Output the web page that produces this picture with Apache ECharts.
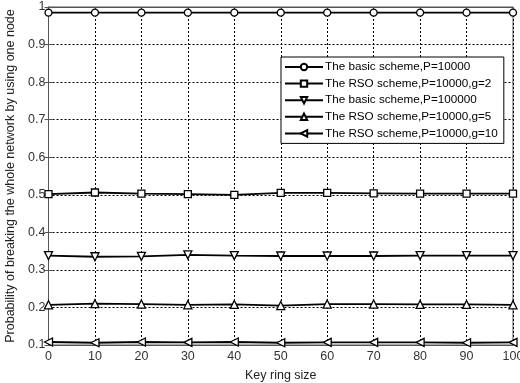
<!DOCTYPE html>
<html>
<head>
<meta charset="utf-8">
<script src="https://cdn.jsdelivr.net/npm/echarts@6/dist/echarts.min.js"></script>
<style>
  html, body { margin: 0; padding: 0; background: #fff; }
  #chart { width: 520px; height: 383px; }
</style>
</head>
<body>
<div id="chart"></div>
<script>
// key ring size (x)
const keyRingSize = [0, 10, 20, 30, 40, 50, 60, 70, 80, 90, 100];

// probability
const basicP1e4 = [0.985, 0.985, 0.985, 0.985, 0.985, 0.985, 0.985, 0.985, 0.985, 0.985, 0.985];
const rsoG2 = [0.502, 0.506, 0.503, 0.502, 0.500, 0.505, 0.505, 0.504, 0.503, 0.503, 0.503];
const basicP1e5 = [0.338, 0.335, 0.336, 0.340, 0.338, 0.337, 0.337, 0.337, 0.338, 0.338, 0.338];
const rsoG5 = [0.207, 0.210, 0.209, 0.207, 0.208, 0.205, 0.209, 0.209, 0.208, 0.208, 0.207];
const rsoG10 = [0.108, 0.106, 0.108, 0.107, 0.108, 0.106, 0.107, 0.107, 0.107, 0.106, 0.107];

const seriesNames = [
  'The basic scheme,P=10000',
  'The RSO scheme,P=10000,g=2',
  'The basic scheme,P=100000',
  'The RSO scheme,P=10000,g=5',
  'The RSO scheme,P=10000,g=10'
];

const chart = echarts.init(document.getElementById('chart'));

// 每条线的样式
const makeSeries = (name, values, symbol, rotate, size) => ({
  name: name,
  type: 'line',
  data: keyRingSize.map((x, i) => [x, values[i]]),
  symbol: symbol,
  symbolSize: size,
  symbolRotate: rotate,
  showAllSymbol: true,
  lineStyle: { color: '#000', width: 1.8 },
  itemStyle: { color: '#fff', borderColor: '#000', borderWidth: 1.3 },
  emphasis: { disabled: true },
  animation: false,
  z: 3
});

const font = 'Arial, "Liberation Sans", sans-serif';

const option = {
  animation: false,
  grid: {
    left: 48.5, right: 7, top: 7, bottom: 38,
    outerBoundsMode: 'none',
    show: true, borderColor: '#555', borderWidth: 1
  },
  legend: {
    orient: 'vertical',
    left: 281, top: 57,
    padding: [4, 6, 4, 3],
    itemWidth: 38, itemHeight: 8, itemGap: 4.6,
    backgroundColor: '#fff',
    borderColor: '#000', borderWidth: 1,
    textStyle: { fontFamily: font, fontSize: 11.7, color: '#000', padding: [0, 0, 0, -3] },
    data: seriesNames
  },
  xAxis: [{
    type: 'value', min: 0, max: 100, interval: 10,
    name: 'Key ring size', nameLocation: 'middle', nameGap: 24,
    nameTextStyle: { fontFamily: font, fontSize: 12.5, color: '#222' },
    axisLine: { show: true, lineStyle: { color: '#555' } },
    axisTick: { show: true, inside: true, length: 4, lineStyle: { color: '#555' } },
    axisLabel: { fontFamily: font, fontSize: 12.5, color: '#333', margin: 5 },
    splitLine: { show: true, lineStyle: { color: '#000', type: [2, 2], width: 1 } }
  }, {
    type: 'value', min: 0, max: 100, interval: 10, position: 'top',
    axisLine: { show: true, lineStyle: { color: '#555' } },
    axisTick: { show: true, inside: true, length: 4, lineStyle: { color: '#555' } },
    axisLabel: { show: false },
    splitLine: { show: false }
  }],
  yAxis: [{
    type: 'value', min: 0.1, max: 1, interval: 0.1,
    name: 'Probability of breaking the whole network by using one node',
    nameLocation: 'middle', nameGap: 30,
    nameTextStyle: { fontFamily: font, fontSize: 12.5, color: '#222' },
    axisLine: { show: true, lineStyle: { color: '#555' } },
    axisTick: { show: true, inside: true, length: 4, lineStyle: { color: '#555' } },
    axisLabel: {
      fontFamily: font, fontSize: 12.5, color: '#333', margin: 3,
      formatter: v => (Math.round(v * 10) / 10).toString()
    },
    splitLine: { show: true, lineStyle: { color: '#000', type: [2, 2], width: 1 } }
  }, {
    type: 'value', min: 0.1, max: 1, interval: 0.1, position: 'right',
    axisLine: { show: true, lineStyle: { color: '#555' } },
    axisTick: { show: true, inside: true, length: 4, lineStyle: { color: '#555' } },
    axisLabel: { show: false },
    splitLine: { show: false }
  }],
  series: [
    makeSeries(seriesNames[0], basicP1e4, 'circle', 0, 7),
    makeSeries(seriesNames[1], rsoG2, 'rect', 0, 7),
    makeSeries(seriesNames[2], basicP1e5, 'triangle', 180, 8),
    makeSeries(seriesNames[3], rsoG5, 'triangle', 0, 8),
    makeSeries(seriesNames[4], rsoG10, 'triangle', 90, 8)
  ]
};

chart.setOption(option);
</script>
</body>
</html>
